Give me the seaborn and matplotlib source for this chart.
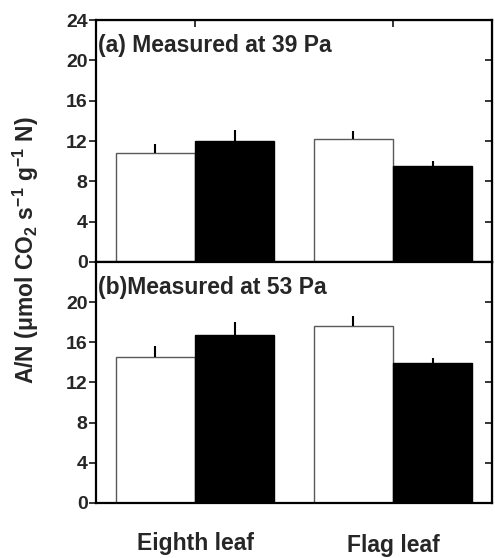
import seaborn as sns
import matplotlib.pyplot as plt
import matplotlib.transforms as mtransforms
import pandas as pd

# data
leaves = ["Eighth leaf", "Flag leaf"]
co2_levels = ["Ambient", "Elevated"]

a_ambient = [10.8, 12.2]
a_ambient_se = [0.9, 0.8]
a_elevated = [12.0, 9.5]
a_elevated_se = [1.1, 0.5]

b_ambient = [14.5, 17.6]
b_ambient_se = [1.1, 1.0]
b_elevated = [16.7, 13.9]
b_elevated_se = [1.3, 0.5]

panel_titles = ["(a) Measured at 39 Pa", "(b)Measured at 53 Pa"]
top_yticks = [0, 4, 8, 12, 16, 20, 24]
bottom_yticks = [0, 4, 8, 12, 16, 20]

sns.set_style("ticks")
plt.rcParams["font.family"] = ["Liberation Sans", "DejaVu Sans"]
plt.rcParams["font.weight"] = "bold"
plt.rcParams["mathtext.fontset"] = "custom"
plt.rcParams["mathtext.rm"] = "Liberation Sans:bold"
plt.rcParams["mathtext.bf"] = "Liberation Sans:bold"
plt.rcParams["mathtext.default"] = "bf"

fig = plt.figure(figsize=(4.95, 5.58), dpi=100)
ax_a = fig.add_axes([0.194, 0.5305, 0.800, 0.4335])
ax_b = fig.add_axes([0.194, 0.0986, 0.800, 0.4319])


def draw_panel(ax, amb, amb_se, elev, elev_se, title, yticks, top_panel):
    df = pd.DataFrame({
        "leaf": leaves * 2,
        "co2": [co2_levels[0]] * 2 + [co2_levels[1]] * 2,
        "value": amb + elev,
    })
    sns.barplot(data=df, x="leaf", y="value", hue="co2", order=leaves,
                hue_order=co2_levels, palette=["white", "black"],
                width=0.8, legend=False, ax=ax, errorbar=None)
    # edges and one-sided error bars
    for cont, errs, ec in zip(ax.containers, [amb_se, elev_se], ["0.35", "black"]):
        for bar, e in zip(cont, errs):
            bar.set_edgecolor(ec)
            bar.set_linewidth(1.0)
            xc = bar.get_x() + bar.get_width() / 2
            h = bar.get_height()
            ax.errorbar([xc], [h], yerr=[[0], [e]], fmt="none",
                        ecolor="black", elinewidth=1.5, capsize=0)
    ax.set_xlim(-0.5, 1.5)
    ax.set_ylim(0, 24)
    ax.set_yticks(yticks)
    ax.set_xlabel("")
    ax.set_ylabel("")
    for s in ax.spines.values():
        s.set_visible(True)
        s.set_linewidth(1.6)
        s.set_color("black")
    ax.tick_params(axis="y", left=True, right=False, direction="out", length=5,
                   width=1.3, labelsize=14, pad=1)
    ax.text(0.004, 0.895, title, transform=ax.transAxes, fontsize=16.5,
            fontweight="bold", va="center", ha="left")
    # right side ticks point inward
    ax2 = ax.secondary_yaxis("right")
    ax2.set_yticks(yticks)
    ax2.tick_params(direction="in", length=5, width=1.3, labelright=False)
    if top_panel:
        ax.tick_params(axis="x", top=False, bottom=True, direction="out",
                       length=5, width=1.3, labelbottom=False)
        axt = ax.secondary_xaxis("top")
        axt.set_xticks([0, 1])
        axt.tick_params(direction="in", length=5, width=1.3, labeltop=False)
    else:
        ax.tick_params(axis="x", length=0, labelsize=16.5, pad=21)
        for i, lab in enumerate(ax.get_xticklabels()):
            lab.set_fontweight("bold")
            if i == 1:
                lab.set_transform(lab.get_transform() + mtransforms.ScaledTranslation(
                    0, -2 / 100, fig.dpi_scale_trans))


draw_panel(ax_a, a_ambient, a_ambient_se, a_elevated, a_elevated_se,
           panel_titles[0], top_yticks, True)
draw_panel(ax_b, b_ambient, b_ambient_se, b_elevated, b_elevated_se,
           panel_titles[1], bottom_yticks, False)

fig.text(0.052, 0.552, "A/N (\u03bcmol CO$_2$ s$^{-1}$ g$^{-1}$ N)", rotation=90,
         ha="center", va="center", fontsize=16.5, fontweight="bold")

fig.savefig("out.png", dpi=100)
